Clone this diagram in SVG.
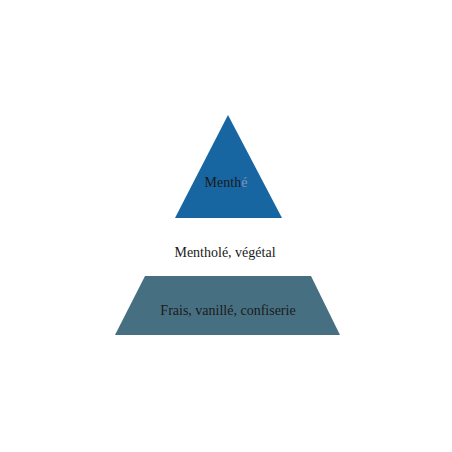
<svg xmlns="http://www.w3.org/2000/svg" width="452" height="452" viewBox="0 0 452 452">
<style>
.t{font-family:"Liberation Serif","DejaVu Serif",serif;font-size:14px;fill:#1a1a1a;text-anchor:middle}
</style>
<rect width="452" height="452" fill="#ffffff"/>
<g id="top">
<polygon points="228,115 282,218 175,218" fill="#1766a2"/>
<text class="t" x="226" y="187">Menth<tspan fill="#7f97b0">é</tspan></text>
</g>
<g id="middle">
<text class="t" x="225" y="257">Mentholé, végétal</text>
</g>
<g id="base">
<polygon points="145,276 311,276 340,335 115,335" fill="#476f82"/>
<text class="t" x="228" y="315">Frais, vanillé, confiserie</text>
</g>
<g id="connectors"/>
</svg>
